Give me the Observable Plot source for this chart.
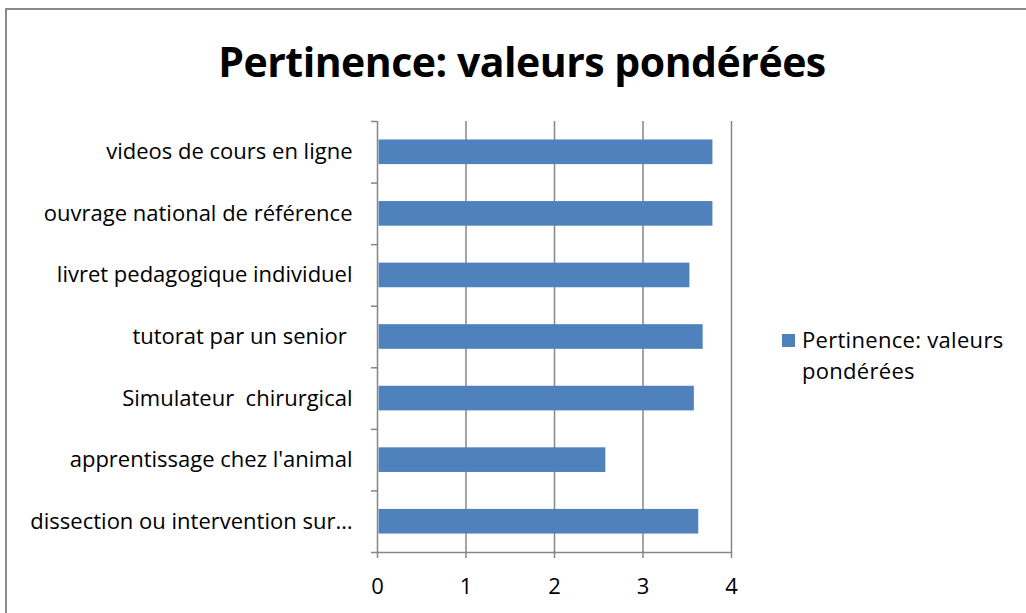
<!DOCTYPE html>
<html><head><meta charset="utf-8">
<script src="https://cdn.jsdelivr.net/npm/d3@7"></script>
<script src="https://cdn.jsdelivr.net/npm/@observablehq/plot@0.6"></script>
<style>
html,body{margin:0;padding:0;background:#fff;}
#wrap{position:relative;width:1026px;height:613px;overflow:hidden;font-family:"Open Sans",sans-serif;}
#frame{position:absolute;left:5px;top:8px;width:1030px;height:620px;border:2px solid #8a8a8a;box-sizing:border-box;}
#title{position:absolute;left:0;width:1044px;top:33px;text-align:center;font-weight:bold;font-size:41px;color:#000;letter-spacing:-0.5px;}
#chart{position:absolute;left:0;top:0;}
#legend{position:absolute;left:782px;top:324px;font-size:22px;color:#000;line-height:31px;letter-spacing:0.3px;}
#legend .sw{display:inline-block;width:13px;height:13px;background:#4F81BD;margin-right:7px;vertical-align:1px;}
#legend .l2{padding-left:20px;}
</style></head>
<body><div id="wrap"><div id="frame"></div><div id="title">Pertinence: valeurs pondérées</div><div id="chart"></div>
<div id="legend"><div><span class="sw"></span>Pertinence: valeurs</div><div class="l2">pondérées</div></div></div>
<script>
const categories = ["dissection ou intervention sur…","apprentissage chez l'animal","Simulateur  chirurgical","tutorat par un senior ","livret pedagogique individuel","ouvrage national de référence","videos de cours en ligne"];
const values = [3.63, 2.58, 3.58, 3.68, 3.53, 3.79, 3.79];
const xTicks = [0,1,2,3,4];
const seriesName = "Pertinence: valeurs pondérées";

const data = categories.map((c,i)=>({cat:c, idx:i, v:values[i]}));
const boundaries = d3.range(categories.length+1);
const centers = categories.map((c,i)=>i+0.5);

const chart = Plot.plot({
  width:1026, height:613,
  marginLeft:377, marginRight:295, marginTop:121, marginBottom:61,
  style:{fontFamily:"'Open Sans',sans-serif", fontSize:"22px", color:"#000", background:"transparent"},
  x:{domain:[0,4], ticks:xTicks},
  y:{domain:[0,categories.length]},
  marks:[
    Plot.ruleX(xTicks.filter(t=>t>0),{stroke:"#868686",strokeWidth:1.5,strokeOpacity:1}),
    Plot.rectX(data,{x1:0,x2:"v",y1:d=>d.idx+0.3,y2:d=>d.idx+0.7,fill:"#4F81BD",insetLeft:1.5}),
    Plot.ruleX([0],{stroke:"#868686",strokeWidth:1.5}),
    Plot.ruleY([0],{stroke:"#868686",strokeWidth:1.5}),
    Plot.axisX({ticks:xTicks,tickSize:6,tickPadding:20,stroke:"#868686",strokeWidth:1.5,fontSize:22,tickFormat:d=>String(d),label:null}),
    Plot.axisY({ticks:boundaries,tickSize:6,tickFormat:()=>"",stroke:"#868686",strokeWidth:1.5,label:null}),
    Plot.axisY({ticks:centers,tickSize:0,tickPadding:25,fontSize:22,tickFormat:d=>categories[Math.round(d-0.5)],label:null})
  ]
});
document.getElementById("chart").appendChild(chart);
</script></body></html>
